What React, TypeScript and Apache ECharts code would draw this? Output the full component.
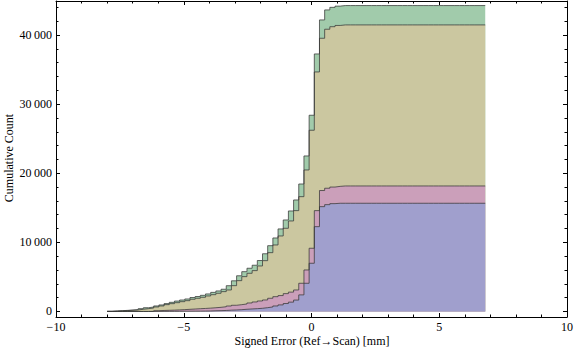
import React, { useEffect, useRef } from "react";
import * as echarts from "echarts";

// Histogram bin range (x, mm) — common bin grid for all series
const binStart = -8.0;
const binEnd = 6.8;

// Cumulative counts per bin (73 bins), one array per series (stacked bottom → top)
const blueCounts = [
  0, 0, 0, 0, 0, 0, 0, 0, 5, 10,
  15, 20, 25, 30, 35, 40, 45, 50, 58, 72,
  100, 120, 145, 190, 217, 260, 318, 362, 405, 458,
  550, 651, 796, 950, 1150, 1350, 1650, 2400, 4080, 6975,
  12270, 15165, 15455, 15600, 15656, 15656, 15656, 15656, 15656, 15656,
  15656, 15656, 15656, 15656, 15656, 15656, 15656, 15656, 15656, 15656,
  15656, 15656, 15656, 15656, 15656, 15656, 15656, 15656, 15656, 15656,
  15656, 15656, 15656,
];
const pinkCounts = [
  0, 0, 0, 0, 0, 0, 0, 0, 0, 100,
  130, 150, 170, 200, 230, 270, 310, 350, 380, 410,
  440, 480, 540, 600, 680, 724, 767, 868, 970, 1061,
  1114, 1259, 1345, 1350, 1430, 1450, 1460, 1680, 1925, 2170,
  2320, 2335, 2375, 2400, 2444, 2504, 2504, 2504, 2504, 2504,
  2504, 2504, 2504, 2504, 2504, 2504, 2504, 2504, 2504, 2504,
  2504, 2504, 2504, 2504, 2504, 2504, 2504, 2504, 2504, 2504,
  2504, 2504, 2504,
];
const oliveCounts = [
  20, 60, 100, 130, 174, 217, 318, 405, 495, 541,
  651, 814, 934, 1043, 1153, 1253, 1410, 1510, 1614, 1761,
  1890, 2030, 2185, 2320, 2838, 3476, 3955, 4295, 4535, 5065,
  5686, 6600, 7479, 8625, 9455, 10295, 11480, 12530, 14470, 17075,
  20066, 22030, 23003, 23200, 23280, 23300, 23300, 23300, 23300, 23300,
  23300, 23300, 23300, 23300, 23300, 23300, 23300, 23300, 23300, 23300,
  23300, 23300, 23300, 23300, 23300, 23300, 23300, 23300, 23300, 23300,
  23300, 23300, 23300,
];
const greenCounts = [
  10, 15, 20, 30, 40, 50, 90, 140, 145, 150,
  150, 155, 195, 235, 240, 245, 250, 255, 285, 295,
  335, 340, 345, 620, 700, 705, 720, 730, 780, 790,
  1000, 1010, 1015, 1020, 1205, 1447, 1544, 1835, 2026, 2170,
  2604, 2653, 2797, 2800, 2800, 2800, 2800, 2800, 2800, 2800,
  2800, 2800, 2800, 2800, 2800, 2800, 2800, 2800, 2800, 2800,
  2800, 2800, 2800, 2800, 2800, 2800, 2800, 2800, 2800, 2800,
  2800, 2800, 2800,
];

const seriesColors = ["#a09fcd", "#cb9fba", "#cbc7a0", "#a1cbab"];

const yMajorTicks = [0, 10000, 20000, 30000, 40000];
const yMinorTicks = [
  2000, 4000, 6000, 8000, 12000, 14000, 16000, 18000, 22000, 24000,
  26000, 28000, 32000, 34000, 36000, 38000, 42000, 44000,
];

const xTitle = "Signed Error (Ref\u2192Scan) [mm]";
const yTitle = "Cumulative Count";

const FONT = '"Liberation Serif", "DejaVu Serif", serif';

function buildPoints(counts: number[]) {
  const n = counts.length;
  const w = (binEnd - binStart) / n;
  const pts: [number, number][] = counts.map((c, i) => [binStart + i * w, c]);
  pts.push([binStart + n * w, counts[n - 1]]);
  return pts;
}

function fmtY(v: number) {
  if (v === 0) return "0";
  const s = String(Math.round(v));
  return s.slice(0, s.length - 3) + "\u2009" + s.slice(s.length - 3);
}
function fmtX(v: number) {
  if (v < 0) return "\u2212" + Math.abs(v);
  return String(v);
}

export default function App() {
  const ref = useRef<HTMLDivElement>(null);
  useEffect(() => {
    document.body.style.margin = "0";
    if (!ref.current) return;
    const chart = echarts.init(ref.current, undefined, { renderer: "svg" });
    const layers = [blueCounts, pinkCounts, oliveCounts, greenCounts];
    // running (stacked) tops of each layer
    const tops: number[][] = [];
    layers.forEach((arr, li) => {
      tops.push(arr.map((v, i) => v + (li > 0 ? tops[li - 1][i] : 0)));
    });
    const yMin = -800;
    const yMax = 44920;
    const tickColor = "#000";
    const labelStyle = { fontFamily: FONT, fontSize: 12, color: "#000" };
    const xBase = {
      type: "value",
      min: -10,
      max: 10,
      interval: 5,
      axisLine: { show: true, onZero: false, lineStyle: { color: "#000", width: 1 } },
      axisTick: { show: true, inside: true, length: 4, lineStyle: { color: tickColor } },
      minorTick: { show: true, splitNumber: 5, length: 2.5, lineStyle: { color: tickColor } },
      splitLine: { show: false },
      minorSplitLine: { show: false },
    };
    const yBase = {
      type: "value",
      min: yMin,
      max: yMax,
      splitLine: { show: false },
    };
    const areaOrder = [3, 2, 1, 0];
    const option: any = {
      animation: false,
      grid: { left: 56, right: 7, top: 1, bottom: 40, containLabel: false },
      xAxis: [
        {
          ...xBase,
          position: "bottom",
          axisLabel: { ...labelStyle, margin: 4, formatter: fmtX },
        },
        {
          ...xBase,
          position: "top",
          axisLabel: { show: false },
        },
      ],
      yAxis: [
        {
          ...yBase,
          position: "left",
          axisLine: { show: true, onZero: false, lineStyle: { color: "#000", width: 1 } },
          axisTick: { show: true, inside: true, length: 4, customValues: yMajorTicks, lineStyle: { color: tickColor } },
          axisLabel: { ...labelStyle, margin: 4, customValues: yMajorTicks, formatter: fmtY },
        },
        {
          ...yBase,
          position: "left",
          axisLine: { show: false, onZero: false },
          axisTick: { show: true, inside: true, length: 2.5, customValues: yMinorTicks, lineStyle: { color: tickColor } },
          axisLabel: { show: false },
        },
        {
          ...yBase,
          position: "right",
          axisLine: { show: true, onZero: false, lineStyle: { color: "#000", width: 1 } },
          axisTick: { show: true, inside: true, length: 4, customValues: yMajorTicks, lineStyle: { color: tickColor } },
          axisLabel: { show: false },
        },
        {
          ...yBase,
          position: "right",
          axisLine: { show: false, onZero: false },
          axisTick: { show: true, inside: true, length: 2.5, customValues: yMinorTicks, lineStyle: { color: tickColor } },
          axisLabel: { show: false },
        },
      ],
      series: [
        ...areaOrder.map((li) => ({
          type: "line",
          name: "area" + li,
          step: "end",
          symbol: "none",
          xAxisIndex: 0,
          yAxisIndex: 0,
          data: buildPoints(tops[li]),
          lineStyle: { width: 0, opacity: 0 },
          areaStyle: { color: seriesColors[li], opacity: 1, origin: 0 },
          z: 2,
        })),
        ...tops.map((t, li) => ({
          type: "line",
          name: "edge" + li,
          step: "end",
          symbol: "none",
          xAxisIndex: 0,
          yAxisIndex: 0,
          data: buildPoints(t),
          lineStyle: { width: 1, color: "rgba(55,55,55,0.75)" },
          z: 3,
        })),
      ],
      graphic: [
        {
          type: "text",
          x: 312,
          y: 341,
          style: {
            text: xTitle,
            font: "12px " + FONT,
            fill: "#000",
            textAlign: "center",
            textVerticalAlign: "middle",
          },
        },
        {
          type: "text",
          x: 8.5,
          y: 158,
          rotation: Math.PI / 2,
          style: {
            text: yTitle,
            font: "12px " + FONT,
            fill: "#000",
            textAlign: "center",
            textVerticalAlign: "middle",
          },
        },
      ],
    };
    chart.setOption(option);
    return () => chart.dispose();
  }, []);
  return (
    <div
      ref={ref}
      style={{ position: "fixed", left: 0, top: 0, width: 576, height: 357, background: "#fff" }}
    />
  );
}
